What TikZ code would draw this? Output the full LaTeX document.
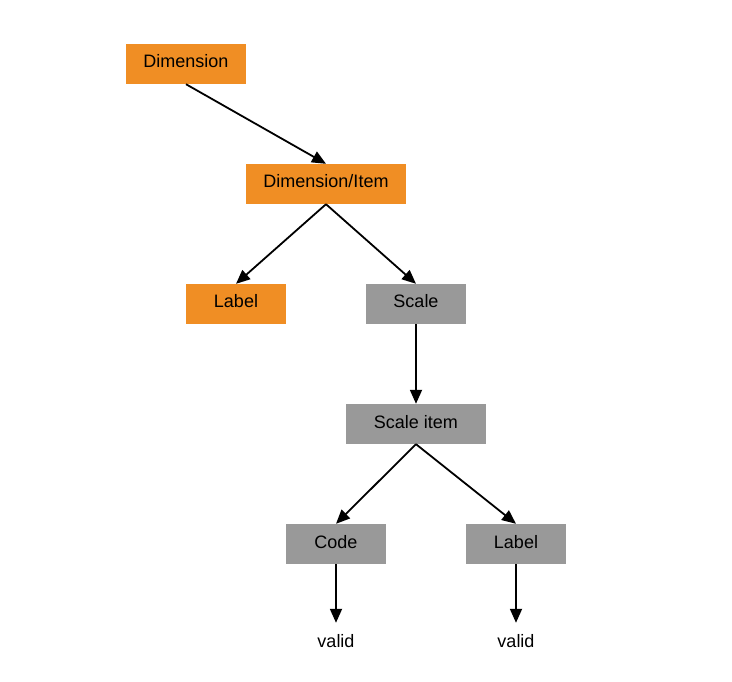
\documentclass[tikz,border=0pt]{standalone}
\usepackage{fontspec}
\setmainfont{Liberation Sans}
\usetikzlibrary{arrows.meta}
\definecolor{boxorange}{HTML}{F08E24}
\definecolor{boxgray}{HTML}{999999}
\begin{document}
\begin{tikzpicture}[x=1pt,y=-1pt,
  box/.style={rectangle,inner sep=0pt,minimum height=40pt,text height=12pt,text depth=4pt,font=\fontsize{18}{21}\selectfont,text=black},
  obox/.style={box,fill=boxorange},
  gbox/.style={box,fill=boxgray},
  leaf/.style={rectangle,inner sep=0pt,minimum height=37pt,text height=12pt,text depth=0pt,font=\fontsize{18}{21}\selectfont},
  conn/.style={line width=1.8pt,-{Triangle[length=14pt,width=12pt]}}]
\useasboundingbox (0,0) rectangle (732,682);
\node[obox,minimum width=120pt] (dim) at (186,64) {Dimension};
\node[obox,minimum width=160pt] (item) at (326,184) {Dimension/Item};
\node[obox,minimum width=100pt] (label1) at (236,304) {Label};
\node[gbox,minimum width=100pt] (scale) at (416,304) {Scale};
\node[gbox,minimum width=140pt] (sitem) at (416,424) {Scale item};
\node[gbox,minimum width=100pt] (code) at (336,544) {Code};
\node[gbox,minimum width=100pt] (label2) at (516,544) {Label};
\node[leaf] (v1) at (336,641.5) {valid};
\node[leaf] (v2) at (516,641.5) {valid};
\draw[conn] (dim.south) -- (item.north);
\draw[conn] (item.south) -- (label1.north);
\draw[conn] (item.south) -- (scale.north);
\draw[conn] (scale.south) -- (sitem.north);
\draw[conn] (sitem.south) -- (code.north);
\draw[conn] (sitem.south) -- (label2.north);
\draw[conn] (code.south) -- (v1.north);
\draw[conn] (label2.south) -- (v2.north);
\end{tikzpicture}
\end{document}
